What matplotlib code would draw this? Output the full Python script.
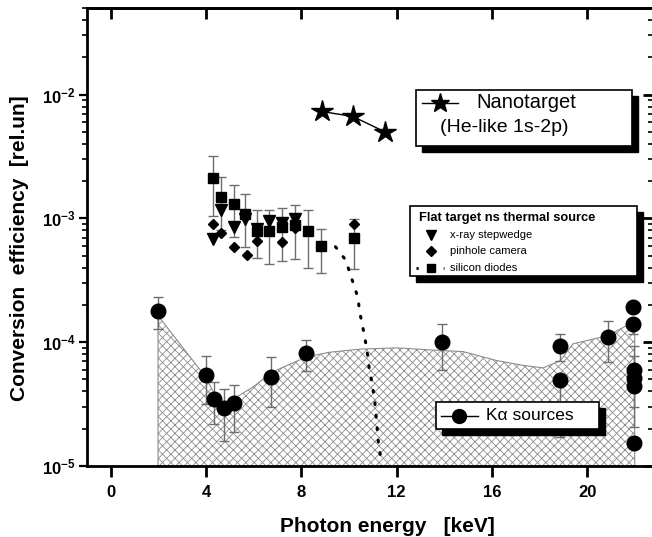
import numpy as np
import matplotlib
matplotlib.use('Agg')
import matplotlib.pyplot as plt
from matplotlib.patches import Rectangle
from matplotlib.lines import Line2D
from matplotlib.ticker import FixedLocator, FuncFormatter, LogLocator, NullFormatter

plt.rcParams['font.family'] = ['Liberation Sans', 'DejaVu Sans']
plt.rcParams['mathtext.fontset'] = 'custom'
plt.rcParams['mathtext.bf'] = 'Liberation Sans:bold'
plt.rcParams['mathtext.rm'] = 'Liberation Sans'
plt.rcParams['mathtext.it'] = 'Liberation Sans:italic'
plt.rcParams['hatch.linewidth'] = 0.6
plt.rcParams['hatch.color'] = '#8c8c8c'

# nanotarget, He-like 1s-2p
nano_e = [8.85, 10.16, 11.5]
nano_ce = [7.3e-3, 6.65e-3, 5.0e-3]

# flat target ns thermal source: silicon diodes
diode_e = [4.29, 4.64, 5.16, 5.65, 6.13, 6.64, 7.19, 7.71, 8.28, 8.81, 10.2]
diode_ce = [2.12e-3, 1.48e-3, 1.30e-3, 1.08e-3, 7.9e-4, 7.9e-4, 8.5e-4, 8.8e-4, 7.9e-4, 6.0e-4, 7.0e-4]
diode_hi = [3.16e-3, 2.15e-3, 1.85e-3, 1.56e-3, 1.16e-3, 1.17e-3, 1.22e-3, 1.28e-3, 1.17e-3, 8.15e-4, 9.9e-4]
diode_lo = [1.05e-3, 8.1e-4, 7.1e-4, 5.9e-4, 4.8e-4, 4.26e-4, 4.5e-4, 4.68e-4, 4.0e-4, 3.65e-4, 3.9e-4]
# dotted fall-off of the diode signal
tail_e = [9.43, 9.86, 10.03, 10.2, 10.37, 10.45, 10.66, 10.76, 10.84, 10.97, 11.08, 11.15, 11.22, 11.32]
tail_ce = [5.9e-4, 4.6e-4, 3.65e-4, 2.89e-4, 2.3e-4, 1.74e-4, 1.1e-4, 8.3e-5, 6.3e-5, 4.6e-5,
           3.3e-5, 2.36e-5, 1.62e-5, 1.2e-5]

# x-ray stepwedge
step_e = [4.29, 4.64, 5.16, 5.65, 6.13, 6.64, 7.19, 7.71]
step_ce = [6.8e-4, 1.16e-3, 8.5e-4, 9.9e-4, 8.15e-4, 9.6e-4, 9.2e-4, 9.8e-4]

# pinhole camera
pin_e = [4.29, 4.64, 5.16, 5.73, 6.13, 7.19, 7.71, 10.2]
pin_ce = [8.95e-4, 7.65e-4, 5.88e-4, 5.07e-4, 6.56e-4, 6.5e-4, 8.4e-4, 8.95e-4]

# K-alpha sources
ka_e = [1.98, 3.99, 4.32, 4.76, 5.16, 6.74, 8.21, 13.9, 18.87, 18.87, 20.87,
        21.92, 21.92, 21.95, 21.95, 21.95, 21.95]
ka_ce = [1.79e-4, 5.48e-5, 3.5e-5, 2.94e-5, 3.22e-5, 5.28e-5, 8.15e-5, 1.0e-4, 9.4e-5, 4.98e-5, 1.11e-4,
         1.91e-4, 1.4e-4, 5.98e-5, 5.16e-5, 4.4e-5, 1.52e-5]
ka_hi = [2.33e-4, 7.7e-5, 4.8e-5, 4.18e-5, 4.47e-5, 7.57e-5, 1.05e-4, 1.4e-4, 1.17e-4, 4.98e-5, 1.47e-4,
         1.91e-4, 1.4e-4, 7.8e-5, 9.4e-5, 4.4e-5, 1.52e-5]
ka_lo = [1.28e-4, 3.19e-5, 2.17e-5, 1.58e-5, 1.87e-5, 2.99e-5, 5.9e-5, 5.98e-5, 7.1e-5, 1.7e-5, 6.98e-5,
         1.91e-4, 1.17e-4, 3.0e-5, 2.07e-5, 4.4e-5, 1.52e-5]

# hatched envelope of the K-alpha data
env_e = [1.98, 3.99, 4.32, 4.76, 5.16, 5.97, 6.74, 8.21, 9.19, 10.5, 12.0, 13.9, 14.78, 16.2,
         17.3, 18.15, 18.87, 19.4, 20.87, 21.92, 21.99]
env_ce = [1.64e-4, 5.2e-5, 3.9e-5, 3.1e-5, 3.5e-5, 4.34e-5, 5.7e-5, 7.6e-5, 8.3e-5, 8.8e-5, 9.0e-5,
          8.55e-5, 8.4e-5, 7.1e-5, 6.5e-5, 6.2e-5, 7.1e-5, 9.7e-5, 1.13e-4, 1.45e-4, 1.45e-4]

x_ticks = [0, 4, 8, 12, 16, 20]

W, H = 652, 537


def fpx(x, y):
    # image pixel (from top left) -> figure fraction
    return x / W, 1 - y / H


def err(vals, hi, lo):
    vals = np.array(vals)
    return [vals - np.array(lo), np.array(hi) - vals]


fig = plt.figure(figsize=(W / 100, H / 100), dpi=100)
ax = fig.add_axes([87 / W, 71 / H, (654 - 87) / W, (466 - 8) / H])
ax.set_yscale('log')
ax.set_xlim(-1, 22.8)
ax.set_ylim(1e-5, 5e-2)

ax.fill_between(env_e, 1e-5, env_ce, facecolor='white', edgecolor='#8c8c8c',
                hatch='xxxx', linewidth=0.8, zorder=1)

ebkw = dict(ecolor='#6e6e6e', elinewidth=1, capsize=3.5, capthick=1, linestyle='none', zorder=3)
ax.errorbar(ka_e, ka_ce, yerr=err(ka_ce, ka_hi, ka_lo), fmt='o', color='k', ms=10.5, **ebkw)
ax.errorbar(diode_e, diode_ce, yerr=err(diode_ce, diode_hi, diode_lo), fmt='s', color='k', ms=6.5, **ebkw)
ax.plot(tail_e, tail_ce, color='k', lw=2.2, linestyle=(0, (0.6, 3.5)), dash_capstyle='round', zorder=3)
ax.plot(step_e, step_ce, 'v', color='k', ms=8.5, zorder=4)
ax.plot(pin_e, pin_ce, 'D', color='k', ms=5.5, zorder=4)
ax.plot(nano_e, nano_ce, '-*', color='k', lw=1, ms=16, zorder=4)

# axes and ticks
for sp in ax.spines.values():
    sp.set_linewidth(2)
ax.xaxis.set_major_locator(FixedLocator(x_ticks))
ax.tick_params(axis='x', which='major', direction='out', length=8, width=2, labelsize=12, pad=6)
ax.tick_params(axis='y', which='major', direction='out', length=6, width=1.6, labelsize=12, pad=2)
ax.tick_params(axis='y', which='minor', direction='out', length=3.5, width=1.2)
ax.yaxis.set_major_locator(LogLocator(base=10))
ax.yaxis.set_minor_locator(LogLocator(base=10, subs=np.arange(2, 10)))
ax.yaxis.set_minor_formatter(NullFormatter())
ax.yaxis.set_major_formatter(FuncFormatter(lambda v, p: r'$\mathbf{10^{%d}}$' % round(np.log10(v))))
for lab in ax.get_xticklabels():
    lab.set_fontweight('bold')

secx = ax.secondary_xaxis('top')
secx.set_xticks(x_ticks)
secx.tick_params(direction='in', length=8, width=2, labeltop=False)
secx.spines['top'].set_linewidth(2)
secy = ax.secondary_yaxis('right')
secy.yaxis.set_minor_locator(LogLocator(base=10, subs=np.arange(2, 10)))
secy.tick_params(which='major', direction='in', length=8, width=2, labelright=False)
secy.tick_params(which='minor', direction='in', length=4, width=1.2, labelright=False)

fig.text(*fpx(20, 248), 'Conversion  efficiency  [rel.un]', rotation=90, ha='center', va='center',
         fontsize=15, fontweight='bold')
fig.text(*fpx(387, 527), 'Photon energy   [keV]', ha='center', va='center',
         fontsize=15, fontweight='bold')


def box(x0, y0, x1, y1, off=6):
    fig.add_artist(Rectangle(fpx(x0 + off, y1 + off), (x1 - x0) / W, (y1 - y0) / H,
                             transform=fig.transFigure, facecolor='k', edgecolor='k', zorder=5))
    fig.add_artist(Rectangle(fpx(x0, y1), (x1 - x0) / W, (y1 - y0) / H, transform=fig.transFigure,
                             facecolor='white', edgecolor='k', linewidth=1.2, zorder=6))


def sample(xs, y, **kw):
    fx = [fpx(x, y)[0] for x in xs]
    fy = [fpx(0, y)[1]] * len(xs)
    fig.add_artist(Line2D(fx, fy, transform=fig.transFigure, color='k', zorder=7, **kw))


# nanotarget legend
box(416, 90, 632, 146)
sample([422, 458], 103, lw=1)
sample([440], 103, marker='*', ms=14, linestyle='none')
fig.text(*fpx(476, 103), 'Nanotarget', fontsize=14.5, va='center', zorder=8)
fig.text(*fpx(440, 128), '(He-like 1s-2p)', fontsize=14, va='center', zorder=8)

# flat target legend
box(410, 206, 637, 276)
fig.text(*fpx(419, 218), 'Flat target ns thermal source', fontsize=9.3, fontweight='bold',
         va='center', zorder=8)
sample([431], 235, marker='v', ms=7, linestyle='none')
sample([431], 251, marker='D', ms=5.5, linestyle='none')
sample([416, 444], 268, lw=2, linestyle=(0, (0.8, 9)))
sample([431], 268, marker='s', ms=6, linestyle='none')
for yy, lab in zip([235, 251, 268], ['x-ray stepwedge', 'pinhole camera', 'silicon diodes']):
    fig.text(*fpx(450, yy), lab, fontsize=8, va='center', zorder=8)

# K-alpha legend
box(436, 402, 599, 429)
sample([441, 478], 416, lw=1)
sample([459], 416, marker='o', ms=10, linestyle='none')
fig.text(*fpx(486, 416), 'K\u03b1 sources', fontsize=12.5, va='center', zorder=8)

fig.savefig('out.png', dpi=100)
